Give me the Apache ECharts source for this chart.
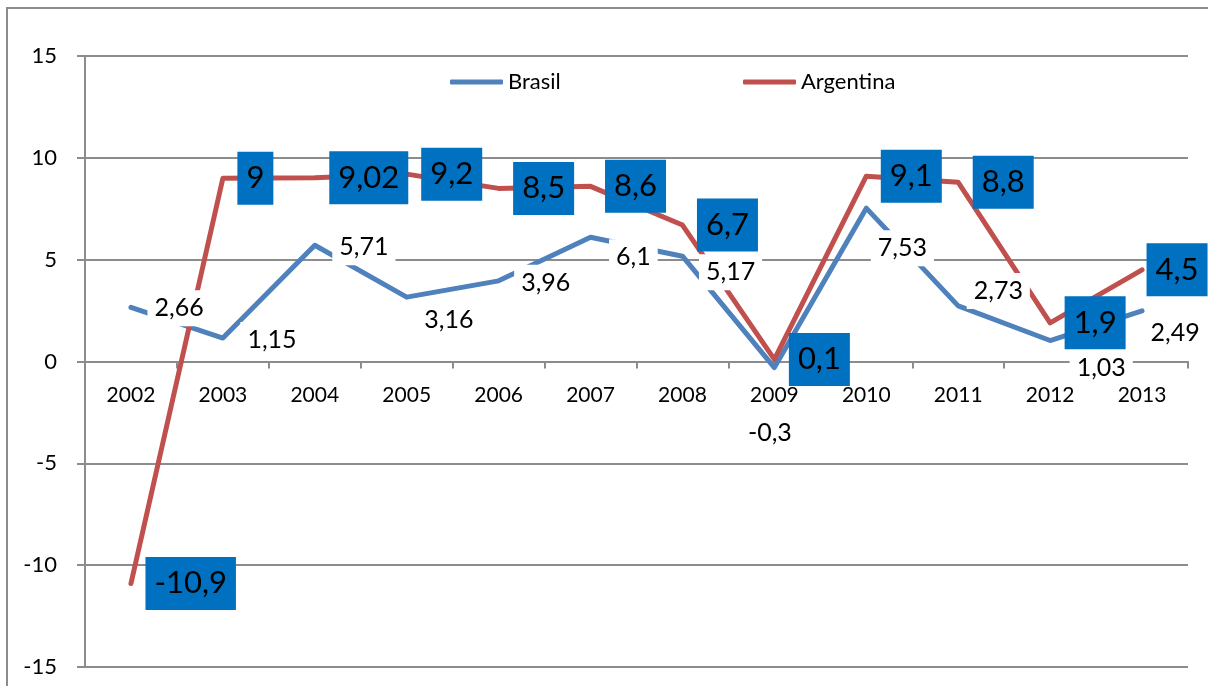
<!DOCTYPE html>
<html>
<head>
  <meta charset="utf-8">
  <title>Brasil x Argentina</title>
  <script src="https://cdn.jsdelivr.net/npm/echarts@6/dist/echarts.min.js"></script>
  <style>
    html, body { margin: 0; padding: 0; background: #fff; }
    #chart { width: 1208px; height: 686px; }
  </style>
</head>
<body>
  <div id="chart"></div>
  <script>
    // data
    const years = ['2002', '2003', '2004', '2005', '2006', '2007', '2008', '2009', '2010', '2011', '2012', '2013'];
    const brasil = [2.66, 1.15, 5.71, 3.16, 3.96, 6.1, 5.17, -0.3, 7.53, 2.73, 1.03, 2.49];
    const argentina = [-10.9, 9, 9.02, 9.2, 8.5, 8.6, 6.7, 0.1, 9.1, 8.8, 1.9, 4.5];
    const yTicks = { min: -15, max: 15, step: 5 };

    // where each Brasil label box sits, relative to its point (as in the picture)
    const brasilLabelShift = [[16, 1], [17, 2], [17, 2], [10, 23], [15, 2], [18, 20], [16, 16], [-34, 65], [4, 40], [8, -15], [19, 27], [1, 22]];

    const FONT = 'Lato';
    const GRAY = '#8c8c8c';
    const GRID = { left: 85, right: 20, top: 56, bottom: 19 };
    const comma = v => String(v).replace('.', ',');

    // x axis sits on the zero line: move it up from the bottom of the grid
    const plotH = 686 - GRID.top - GRID.bottom;
    const zeroUp = plotH * (0 - yTicks.min) / (yTicks.max - yTicks.min);

    let brasilData = brasil.map(function (v, i) {
      return { value: v, label: { offset: brasilLabelShift[i] } };
    });
    let argentinaData = argentina.map(function (v, i) {
      return i == argentina.length - 1 ? { value: v, label: { distance: 4 } } : v;
    });

    let myChart = echarts.init(document.getElementById('chart'));
    let option = {
      animation: false,
      textStyle: { fontFamily: FONT },
      graphic: [{
        type: 'rect',
        z: -10,
        shape: { x: 7, y: 8, width: 1300, height: 800 },
        style: { fill: 'none', stroke: GRAY, lineWidth: 2 }
      }],
      legend: [{
        data: ['Brasil'],
        left: 445,
        top: 66,
        icon: 'roundRect',
        itemWidth: 53,
        itemHeight: 5,
        textStyle: { fontFamily: FONT, fontSize: 22, color: '#000' }
      }, {
        data: ['Argentina'],
        left: 738,
        top: 66,
        icon: 'roundRect',
        itemWidth: 53,
        itemHeight: 5,
        textStyle: { fontFamily: FONT, fontSize: 22, color: '#000' }
      }],
      grid: {
        left: GRID.left,
        right: GRID.right,
        top: GRID.top,
        bottom: GRID.bottom,
        containLabel: false,
        outerBoundsMode: 'none'
      },
      xAxis: {
        type: 'category',
        data: years,
        boundaryGap: true,
        offset: -zeroUp,
        axisLine: { onZero: false, lineStyle: { color: GRAY, width: 2 } },
        axisTick: { show: true, length: 7, lineStyle: { color: GRAY, width: 2 } },
        axisLabel: { margin: 23, fontFamily: FONT, fontSize: 21, color: '#000' },
        splitLine: { show: false }
      },
      yAxis: {
        type: 'value',
        min: yTicks.min,
        max: yTicks.max,
        interval: yTicks.step,
        axisLine: { show: true, lineStyle: { color: GRAY, width: 2 } },
        axisTick: { show: true, length: 8, lineStyle: { color: GRAY, width: 2 } },
        axisLabel: { margin: 28, fontFamily: FONT, fontSize: 22, color: '#000' },
        splitLine: { show: true, lineStyle: { color: GRAY, width: 2 } }
      },
      series: [{
        name: 'Brasil',
        type: 'line',
        data: brasilData,
        color: '#4F81BD',
        symbol: 'circle',
        symbolSize: 1,
        lineStyle: { width: 5, color: '#4F81BD', cap: 'round', join: 'round' },
        label: {
          show: true,
          position: 'right',
          distance: 0,
          formatter: p => comma(p.value),
          fontFamily: FONT,
          fontSize: 25,
          lineHeight: 30,
          color: '#000',
          backgroundColor: '#fff',
          padding: [3, 7]
        }
      }, {
        name: 'Argentina',
        type: 'line',
        data: argentinaData,
        color: '#C0504D',
        symbol: 'circle',
        symbolSize: 1,
        lineStyle: { width: 5, color: '#C0504D', cap: 'round', join: 'round' },
        label: {
          show: true,
          position: 'right',
          distance: 14,
          formatter: p => comma(p.value),
          fontFamily: FONT,
          fontSize: 31,
          lineHeight: 40,
          color: '#000',
          backgroundColor: '#0070C0',
          padding: [8, 9, 5, 9]
        }
      }]
    };
    myChart.setOption(option);
  </script>
</body>
</html>
